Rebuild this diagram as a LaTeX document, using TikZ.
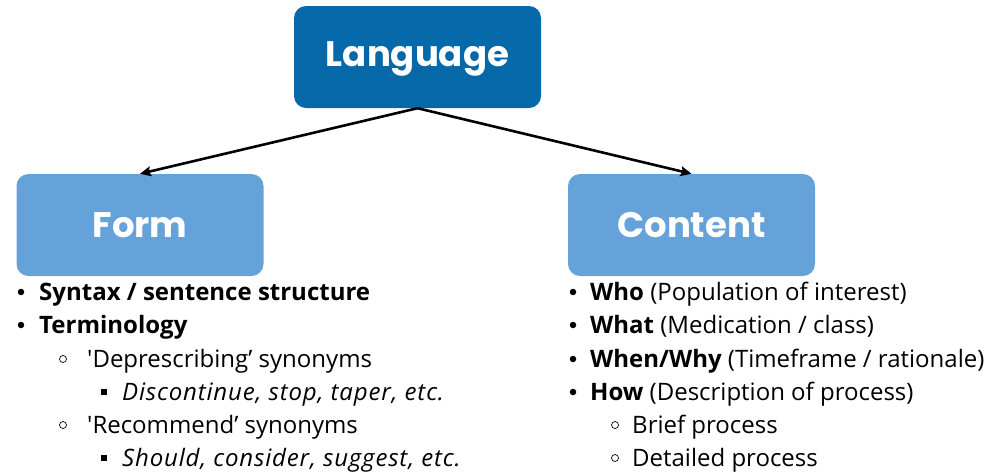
\documentclass[tikz,border=0pt]{standalone}
\usepackage{fontspec}
\setmainfont{Open Sans}[Ligatures=TeXOff, ItalicFeatures={LetterSpace=3.5}]
\newfontfamily\headfont{Poppins}
\usetikzlibrary{arrows.meta}
\definecolor{darkblue}{HTML}{0569A9}
\definecolor{lightblue}{HTML}{65A2DA}
\begin{document}
\begin{tikzpicture}[x=1pt,y=-1pt,
  box/.style={rounded corners=12pt, minimum width=247pt, minimum height=102pt, inner sep=0pt,
    text=white, font=\headfont\bfseries\fontsize{35.5}{40}\selectfont},
  darkbox/.style={box, fill=darkblue},
  lightbox/.style={box, fill=lightblue},
  conn/.style={line width=2.6pt, -{Stealth[length=11pt,width=10pt,inset=2pt]}},
  txt/.style={anchor=base west, inner sep=0pt, font=\fontsize{24}{28}\selectfont},
  dotbul/.style={circle, fill=black, inner sep=0pt, minimum size=6.5pt},
  ringbul/.style={circle, draw=black, line width=0.7pt, inner sep=0pt, minimum size=7pt},
  sqbul/.style={rectangle, fill=black, inner sep=0pt, minimum size=6pt}
]
\useasboundingbox (0,0) rectangle (996,472);

\node[darkbox, text height=25pt, text depth=6pt] (lang) at (417.5,57) {Language};
\node[lightbox, text height=25pt, text depth=0pt] (form) at (140,225) {Form};
\node[lightbox, text height=25pt, text depth=1pt] (cont) at (691.5,225) {Content};

\draw[conn] (lang.south) -- (form.north);
\draw[conn] (lang.south) -- (cont.north);

% left column
\node[dotbul] (lb1) at (21,292) {};
\node[txt] (l1) at (39,300) {\textbf{Syntax / sentence structure}};
\node[dotbul] (lb2) at (21,325) {};
\node[txt] (l2) at (39,333) {\textbf{Terminology}};
\node[ringbul] (lb3) at (63,359) {};
\node[txt] (l3) at (87,367) {'Deprescribing’ synonyms};
\node[sqbul] (lb4) at (104,392) {};
\node[txt] (l4) at (122,400) {\itshape Discontinue, stop, taper, etc.};
\node[ringbul] (lb5) at (63,425) {};
\node[txt] (l5) at (87,433) {'Recommend’ synonyms};
\node[sqbul] (lb6) at (104,458) {};
\node[txt] (l6) at (122,466) {\itshape Should, consider, suggest, etc.};

% right column
\node[dotbul] (rb1) at (573,292) {};
\node[txt] (r1) at (590,300) {\textbf{Who} (Population of interest)};
\node[dotbul] (rb2) at (573,325) {};
\node[txt] (r2) at (590,333) {\textbf{What} (Medication / class)};
\node[dotbul] (rb3) at (573,359) {};
\node[txt] (r3) at (590,367) {\textbf{When/Why} (Timeframe / rationale)};
\node[dotbul] (rb4) at (573,392) {};
\node[txt] (r4) at (590,400) {\textbf{How} (Description of process)};
\node[ringbul] (rb5) at (615,425) {};
\node[txt] (r5) at (632,433) {Brief process};
\node[ringbul] (rb6) at (615,458) {};
\node[txt] (r6) at (632,466) {Detailed process};
\end{tikzpicture}
\end{document}
